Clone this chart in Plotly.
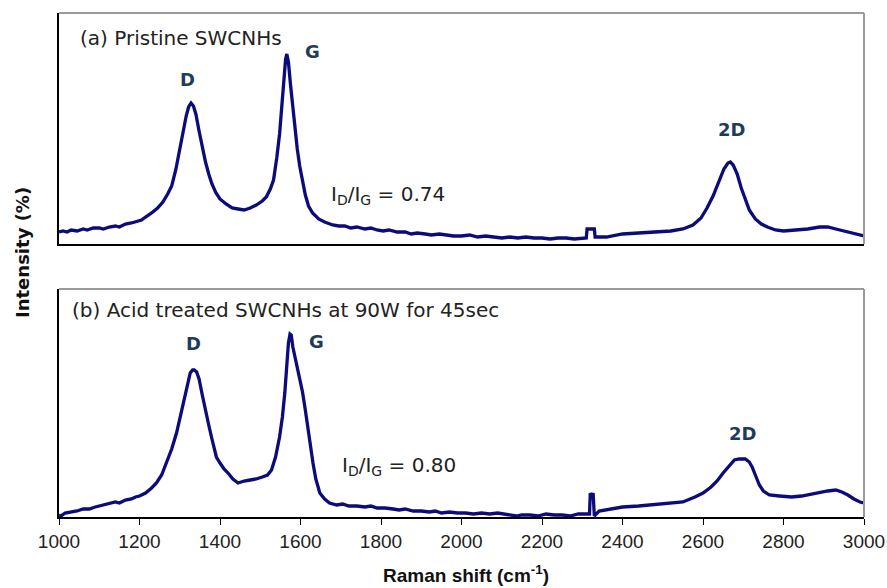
import plotly.graph_objects as go

# ---- data (intensities in arbitrary units) ----
wn_a = [1000,1010,1020,1030,1045,1060,1070,1085,1100,1110,1125,1140,1150,1165,1180,1195,1205,1215,1230,1245,
        1258,1270,1280,1290,1300,1308,1316,1322,1328,1334,1340,1348,1356,1364,1372,1380,1390,1400,1415,1430,
        1445,1460,1475,1490,1505,1515,1525,1533,1541,1548,1554,1559,1563,1566,1570,1575,1580,1586,1592,1598,
        1605,1612,1620,1630,1645,1660,
        1680,1695,1710,1725,1740,1760,1775,1790,1805,1820,1840,1860,1875,1890,1910,1925,1945,1960,1980,2000,
        2020,2040,2060,2080,2100,2120,2140,2160,2180,2200,2220,2240,2260,2280,2300,2310,
        2312,2330,2332,2360,2400,2440,2480,2520,2550,2575,2595,2610,2625,2640,2652,2662,2668,2675,2685,2695,
        2705,2715,2730,2745,2760,2780,2800,2830,2860,2890,2910,2930,2950,2970,2985,3000]
int_a = [12,13,12,14,13,15,14,16,16,15,17,18,17,20,21,23,24,27,31,36,
         42,50,58,74,95,112,128,137,141,138,130,113,96,82,70,60,51,45,40,36,
         35,34,36,39,43,47,55,64,86,110,140,170,185,190,182,160,140,115,95,78,
         62,49,38,31,25,22,
         19,18,18,16,17,15,16,14,13,14,12,12,10,11,10,9,10,9,8,8,
         9,7,8,7,6,7,6,7,6,6,5,6,6,5,6,6,
         15,15,7,7,10,11,12,13,15,19,26,36,48,64,75,81,82,79,70,56,
         44,34,25,20,17,14,13,14,15,17,17,15,13,11,9,8]

wn_b = [1000,1005,1015,1030,1045,1060,1075,1090,1100,1115,1130,1140,1150,1165,1180,1190,1200,1215,
        1230,1242,1255,1267,1280,1292,1303,1313,1320,1326,1332,1336,1342,1348,1356,1364,1372,1380,1391,1400,
        1410,1420,1432,1445,1460,1475,1490,1505,1518,1528,1538,1548,1555,1561,1566,1570,1574,1577,1581,1586,
        1592,1598,1605,1612,1620,1626,1631,1638,1648,1660,1672,
        1690,1705,1720,1740,1760,1775,1790,1810,1830,1845,1860,1880,1900,1920,1935,1950,1970,1990,2010,2030,
        2050,2070,2090,2110,2136,2150,2170,2190,2210,2230,2250,2270,2290,2305,2318,
        2320,2324,2327,2330,2342,2370,2400,2440,2470,2510,2550,2580,2600,2620,2635,2650,2665,2678,2690,2705,
        2715,2722,2730,2740,2750,2765,2790,2820,2845,2870,2890,2910,2930,2945,2960,2975,2990,3000]
int_b = [2,1,4,5,6,8,8,10,11,12,14,15,14,17,18,20,21,24,
         29,34,42,54,68,84,104,124,136,144,147,147,145,138,122,105,92,78,60,54,
         48,44,38,34,36,37,38,40,42,47,60,80,100,124,150,174,183,182,170,160,
         150,140,125,107,85,65,54,38,24,18,14,
         12,13,11,11,10,11,9,9,8,7,8,6,6,5,6,4,5,4,4,3,
         4,3,4,3,1,2,2,1,3,2,2,1,3,3,3,
         24,20,24,1,6,8,10,11,12,13,15,20,24,30,36,44,51,57,58,58,
         55,50,42,32,26,22,21,20,21,23,25,26,27,25,22,18,15,14]

assert len(wn_a) == len(int_a) and len(wn_b) == len(int_b)

x_ticks = [1000,1200,1400,1600,1800,2000,2200,2400,2600,2800,3000]

peak_labels = ["D", "G", "2D"]
ratio_a = "0.74"
ratio_b = "0.80"

LINE = "#0b0b7c"
LBL = "#1d3c5a"
SANS = "DejaVu Sans, Verdana, sans-serif"
NARROW = "Liberation Sans Narrow, Liberation Sans, Arial, sans-serif"

fig = go.Figure()
fig.add_trace(go.Scatter(x=wn_a, y=int_a, mode="lines", line=dict(color=LINE, width=3.3),
                         xaxis="x2", yaxis="y2", showlegend=False))
fig.add_trace(go.Scatter(x=wn_b, y=int_b, mode="lines", line=dict(color=LINE, width=3.3),
                         xaxis="x", yaxis="y", showlegend=False))

W, H = 887, 588
xd = [59 / W, 864 / W]
top_dom = [(H - 244) / H, (H - 13) / H]
bot_dom = [(H - 517) / H, (H - 289) / H]

fig.update_layout(
    width=W, height=H, margin=dict(l=0, r=0, t=0, b=0, autoexpand=False),
    paper_bgcolor="white", plot_bgcolor="white",
    xaxis=dict(domain=xd, range=[1000, 3000], tickvals=x_ticks, ticks="outside", ticklen=6,
               tickcolor="black", showline=True, linecolor="black", linewidth=1.5,
               showgrid=False, zeroline=False, anchor="y", automargin=False,
               tickfont=dict(family=NARROW, size=19, color="#222")),
    yaxis=dict(domain=bot_dom, range=[0, 228], showticklabels=False, ticks="", showgrid=False,
               zeroline=False, showline=True, linecolor="black", linewidth=1.5, anchor="x",
               automargin=False),
    xaxis2=dict(domain=xd, range=[1000, 3000], showticklabels=False, ticks="", showgrid=False,
                zeroline=False, showline=True, linecolor="black", linewidth=1.5, anchor="y2",
                automargin=False),
    yaxis2=dict(domain=top_dom, range=[0, 231], showticklabels=False, ticks="", showgrid=False,
                zeroline=False, showline=True, linecolor="black", linewidth=1.5, anchor="x2",
                automargin=False),
    font=dict(family=SANS, color="#222"),
)

# gray top/right frame lines
for xr, yr in (("x2 domain", "y2 domain"), ("x domain", "y domain")):
    fig.add_shape(type="line", xref=xr, yref=yr, x0=0, x1=1, y0=1, y1=1, line=dict(color="#9a9a9a", width=2))
    fig.add_shape(type="line", xref=xr, yref=yr, x0=1, x1=1, y0=0, y1=1, line=dict(color="#9a9a9a", width=2))

def txt(x, y, s, xa="center", xref="x", yref="y", size=20, color="#222", bold=False):
    if bold:
        s = "<b>" + s + "</b>"
    fig.add_annotation(x=x, y=y, xref=xref, yref=yref, text=s, showarrow=False, xanchor=xa,
                       yanchor="middle", font=dict(family=SANS, size=size, color=color))

# top panel
txt(1047, 206, "(a) Pristine SWCNHs", xa="left", xref="x2", yref="y2")
txt(1320, 164, peak_labels[0], xref="x2", yref="y2", color=LBL, bold=True, size=18)
txt(1629, 192, peak_labels[1], xref="x2", yref="y2", color=LBL, bold=True, size=18)
txt(2672, 114, peak_labels[2], xref="x2", yref="y2", color=LBL, bold=True, size=18)
txt(1671, 49, "I<sub>D</sub>/I<sub>G</sub> = " + ratio_a, xa="left", xref="x2", yref="y2")

# bottom panel
txt(1027, 207, "(b) Acid treated SWCNHs at 90W for 45sec", xa="left")
txt(1333, 174, peak_labels[0], color=LBL, bold=True, size=18)
txt(1639, 176, peak_labels[1], color=LBL, bold=True, size=18)
txt(2699, 84, peak_labels[2], color=LBL, bold=True, size=18)
txt(1698, 51, "I<sub>D</sub>/I<sub>G</sub> = " + ratio_b, xa="left")

# axis titles
fig.add_annotation(x=466 / W, y=0, xref="paper", yref="paper", showarrow=False,
                   text="<b>Raman shift (cm<sup>-1</sup>)</b>", xanchor="center", yanchor="bottom",
                   font=dict(family=NARROW, size=19, color="#111"))
fig.add_annotation(x=22 / W, y=(H - 253) / H, xref="paper", yref="paper", showarrow=False,
                   text="<b>Intensity (%)</b>", textangle=-90, xanchor="center", yanchor="middle",
                   font=dict(family=SANS, size=18, color="#111"))

fig.write_html("out.html")
